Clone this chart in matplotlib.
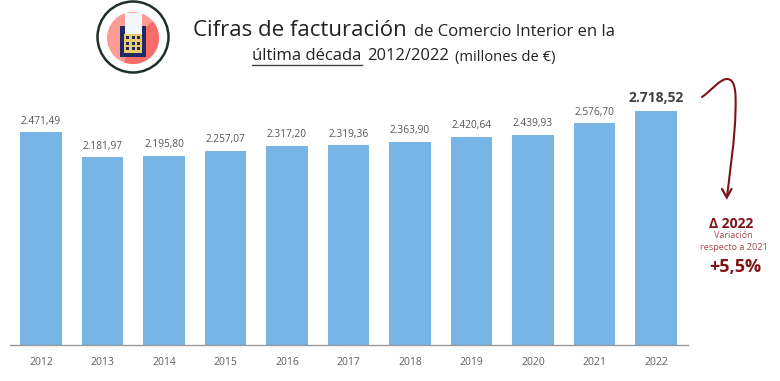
import matplotlib
matplotlib.use("Agg")
import matplotlib.pyplot as plt
from matplotlib.patches import Circle, Rectangle, Wedge, PathPatch
from matplotlib.path import Path

years = ["2012","2013","2014","2015","2016","2017","2018","2019","2020","2021","2022"]
values = [2471.49,2181.97,2195.80,2257.07,2317.20,2319.36,2363.90,2420.64,2439.93,2576.70,2718.52]
labels = ["2.471,49","2.181,97","2.195,80","2.257,07","2.317,20","2.319,36","2.363,90","2.420,64","2.439,93","2.576,70","2.718,52"]

W, H = 780, 381
plt.rcParams['font.family'] = ['Open Sans', 'DejaVu Sans']
fig = plt.figure(figsize=(W/100, H/100), dpi=100, facecolor='white')

# chart axes (pixel box: x 10..688, baseline y=345, top y=95)
ax = fig.add_axes([10/W, 1-345/H, 678/W, 250/H])
ax.bar(range(len(years)), values, width=0.67, color='#76B5E5', linewidth=0)
ax.set_xlim(-0.504, 10.52)
ax.set_ylim(0, 2718.52*250/234)
for s in ['top','left','right']:
    ax.spines[s].set_visible(False)
ax.spines['bottom'].set_color('#9a9a9a')
ax.spines['bottom'].set_linewidth(1.0)
ax.set_yticks([])
ax.set_xticks(range(len(years)))
ax.set_xticklabels(years, fontsize=7.5, color='#606060')
ax.tick_params(axis='x', length=0, pad=8.5)
for i, (v, l) in enumerate(zip(values, labels)):
    last = i == len(values)-1
    ax.annotate(l, (i, v), xytext=(0, 4 if last else 4), textcoords='offset points',
                ha='center', va='bottom', fontsize=10 if last else 7.3,
                color='#404040' if last else '#555555',
                fontweight='bold' if last else 'normal')

# overlay in pixel coordinates for title, icon and note
ov = fig.add_axes([0, 0, 1, 1], facecolor='none')
ov.set_xlim(0, W); ov.set_ylim(H, 0); ov.axis('off')

ov.text(193, 30, "Cifras de facturación", fontsize=16, color='#222222', va='center', ha='left')
ov.text(414, 32, "de Comercio Interior en la", fontsize=12, color='#222222', va='center', ha='left')
ov.text(252, 56, "última década", fontsize=12, color='#222222', va='center', ha='left')
ov.plot([252, 362], [64.5, 64.5], color='#444444', lw=1.0)
ov.text(367, 56, "2012/2022", fontsize=11.9, color='#222222', va='center', ha='left')
ov.text(455, 58, "(millones de €)", fontsize=10.6, color='#222222', va='center', ha='left')

# icon
ov.add_patch(Circle((133, 37), 35.5, fc='white', ec='#1f2f2a', lw=1.8))
ov.add_patch(Circle((133, 38), 26, fc='#FD9C94', ec='none'))
ov.add_patch(Wedge((133, 38), 26, -40, 110, fc='#F76B68', ec='none'))
ov.add_patch(Rectangle((120, 26), 26, 31, fc='#1E2A66', ec='none'))
ov.add_patch(Rectangle((124.5, 13), 17.5, 21, fc='#F4F8FC', ec='none'))
ov.add_patch(Rectangle((124, 34), 18, 19, fc='#EBCB6A', ec='none', zorder=3))
for r in range(3):
    for c in range(3):
        ov.add_patch(Rectangle((126+c*5.5, 36+r*5.5), 3, 3, fc='#1E2A66', ec='none', zorder=4))

# curved arrow
red = '#7D1418'
path = Path([(702, 97), (712, 90), (720, 79), (727, 79), (736, 79), (736, 95), (735.5, 110), (735, 140), (730, 170), (727, 197)],
            [Path.MOVETO] + [Path.CURVE4]*9)
ov.add_patch(PathPatch(path, fc='none', ec=red, lw=1.5, capstyle='round'))
ov.plot([722, 726.8, 731.5], [189, 197.5, 189], color=red, lw=1.6, solid_capstyle='round', solid_joinstyle='miter')

ov.text(731, 224, "Δ 2022", fontsize=10, fontweight='bold', color=red, ha='center', va='center')
ov.text(733.5, 236, "Variación", fontsize=6.5, color='#A04A4E', ha='center', va='center')
ov.text(734, 248, "respecto a 2021", fontsize=6.6, color='#A04A4E', ha='center', va='center')
ov.text(735, 267, "+5,5%", fontsize=13, fontweight='bold', color=red, ha='center', va='center')

fig.savefig("out.png", dpi=100, facecolor='white')
